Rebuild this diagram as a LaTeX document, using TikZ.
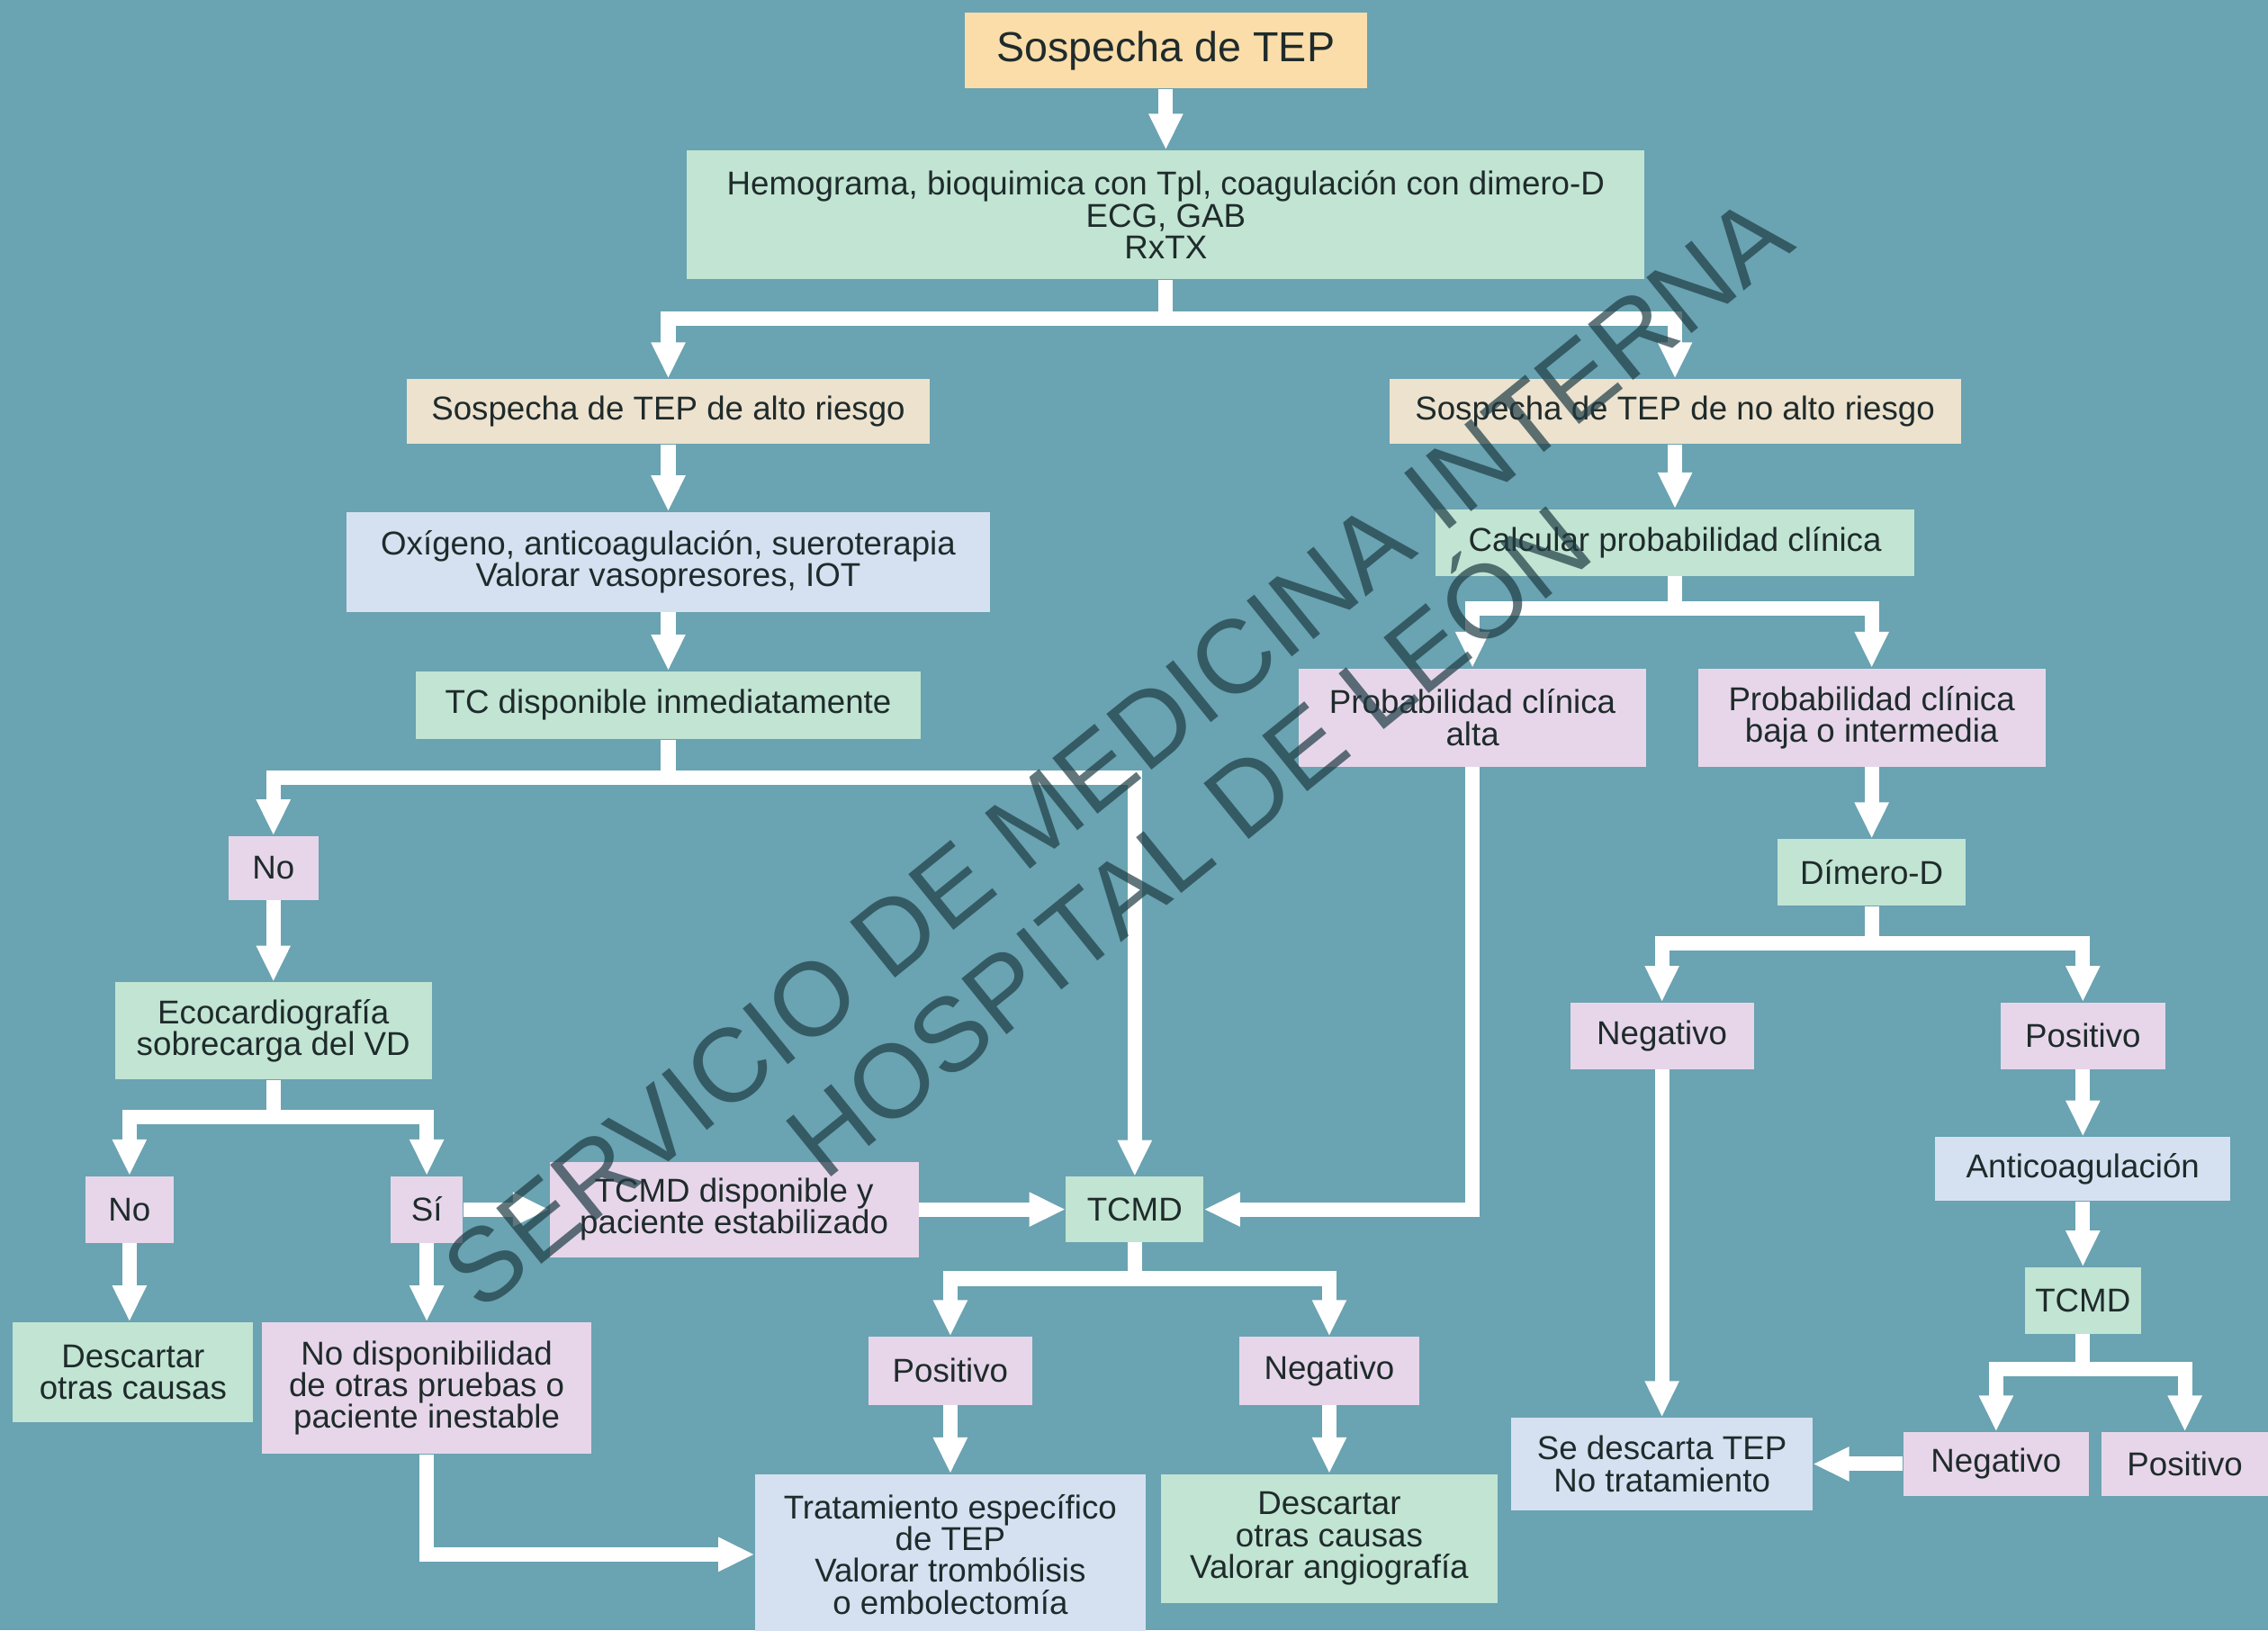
\documentclass[tikz,border=0pt]{standalone}
\usepackage{fontspec}
\setmainfont{Liberation Sans}
\usepackage{tikz}
\usetikzlibrary{arrows.meta,calc}

\definecolor{fondo}{HTML}{6AA3B1}
\definecolor{melocoton}{HTML}{FADDA9}
\definecolor{beige}{HTML}{EDE2CE}
\definecolor{menta}{HTML}{C1E4D3}
\definecolor{celeste}{HTML}{D5E1F1}
\definecolor{rosa}{HTML}{E7D6EA}
\definecolor{tinta}{HTML}{1F2B2B}
\definecolor{marca}{HTML}{1E3C44}

\begin{document}
\begin{tikzpicture}[
  x=0.02cm, y=-0.02cm,
  box/.style={inner sep=0pt, align=center, text=tinta, font=\fontsize{13}{12.5}\selectfont},
  wh/.style 2 args={minimum width=#1*0.02cm, minimum height=#2*0.02cm},
  arr/.style={draw=white, line width=0.2cm, -{Triangle[width=0.44cm,length=0.5cm]}}
]
\fill[fondo] (0,0) rectangle (1568,1127);
\useasboundingbox (0,0) rectangle (1568,1127);

% tronco comun
\node[box, fill=melocoton, wh={278}{52}, font=\fontsize{16.5}{18}\selectfont] (titulo) at (806,35) {Sospecha de TEP};
\node[box, fill=menta, wh={662}{89}] (hemo) at (806,148.5) {Hemograma, bioquimica con Tpl, coagulación con dimero-D\\ECG, GAB\\RxTX};
\node[box, fill=beige, wh={362}{45}] (alto) at (462,284.5) {Sospecha de TEP de alto riesgo};
\node[box, fill=beige, wh={395}{45}] (noalto) at (1158,284.5) {Sospecha de TEP de no alto riesgo};

% rama de alto riesgo
\node[box, fill=celeste, wh={445}{69}] (oxi) at (462,388.5) {Oxígeno, anticoagulación, sueroterapia\\Valorar vasopresores, IOT};
\node[box, fill=menta, wh={349}{47}] (tcinm) at (462,487.5) {TC disponible inmediatamente};
\node[box, fill=rosa, wh={62}{44}] (no1) at (189,600) {No};
\node[box, fill=menta, wh={219}{67}] (eco) at (189,712.5) {Ecocardiografía\\sobrecarga del VD};
\node[box, fill=rosa, wh={61}{46}] (no2) at (89.5,836) {No};
\node[box, fill=rosa, wh={50}{46}] (si) at (295,836) {Sí};
\node[box, fill=rosa, wh={255}{66}] (tcmddisp) at (507.5,836) {TCMD disponible y\\paciente estabilizado};
\node[box, fill=menta, wh={95}{45}] (tcmd) at (784.5,836) {TCMD};
\node[box, fill=menta, wh={166}{69}] (descotras) at (92,948.5) {Descartar\\otras causas};
\node[box, fill=rosa, wh={228}{91}] (nodisp) at (295,959.5) {No disponibilidad\\de otras pruebas o\\paciente inestable};
\node[box, fill=rosa, wh={113}{47}] (pos1) at (657,947.5) {Positivo};
\node[box, fill=rosa, wh={125}{47}] (neg1) at (919,947.5) {Negativo};
\node[box, fill=celeste, wh={270}{111}] (trat) at (657,1074.5) {Tratamiento específico\\de TEP\\Valorar trombólisis\\o embolectomía};
\node[box, fill=menta, wh={233}{89}] (descang) at (919,1063.5) {Descartar\\otras causas\\Valorar angiografía};

% rama de no alto riesgo
\node[box, fill=menta, wh={331}{46}] (calc) at (1158,375) {Calcular probabilidad clínica};
\node[box, fill=rosa, wh={240}{68}] (palta) at (1018,496) {Probabilidad clínica\\alta};
\node[box, fill=rosa, wh={240}{68}] (pbaja) at (1294,496) {Probabilidad clínica\\baja o intermedia};
\node[box, fill=menta, wh={130}{46}] (dimero) at (1294,603) {Dímero-D};
\node[box, fill=rosa, wh={127}{46}] (dneg) at (1149,716) {Negativo};
\node[box, fill=rosa, wh={114}{46}] (dpos) at (1440,716) {Positivo};
\node[box, fill=celeste, wh={204}{44}] (anticoag) at (1440,808) {Anticoagulación};
\node[box, fill=menta, wh={80}{46}] (tcmd2) at (1440,899) {TCMD};
\node[box, fill=celeste, wh={208}{64}] (descarta) at (1149,1012) {Se descarta TEP\\No tratamiento};
\node[box, fill=rosa, wh={128}{44}] (tneg) at (1380,1012) {Negativo};
\node[box, fill=rosa, wh={115}{44}] (tpos) at (1510.5,1012) {Positivo};

% flechas
\draw[arr] (titulo.south) -- (hemo.north);
\draw[arr] (hemo.south) -- ++(0,27) -| (alto.north);
\draw[arr] (hemo.south) -- ++(0,27) -| (noalto.north);
\draw[arr] (alto.south) -- (oxi.north);
\draw[arr] (oxi.south) -- (tcinm.north);
\draw[arr] (tcinm.south) -- ++(0,26) -| (no1.north);
\draw[arr] (tcinm.south) -- ++(0,26) -| (tcmd.north);
\draw[arr] (no1.south) -- (eco.north);
\draw[arr] (eco.south) -- ++(0,26) -| (no2.north);
\draw[arr] (eco.south) -- ++(0,26) -| (si.north);
\draw[arr] (no2.south) -- (no2.south |- descotras.north);
\draw[arr] (si.south) -- (nodisp.north);
\draw[arr] (si.east) -- (tcmddisp.west);
\draw[arr] (tcmddisp.east) -- (tcmd.west);
\draw[arr] (nodisp.south) |- (trat.west);
\draw[arr] (tcmd.south) -- ++(0,25) -| (pos1.north);
\draw[arr] (tcmd.south) -- ++(0,25) -| (neg1.north);
\draw[arr] (pos1.south) -- (trat.north);
\draw[arr] (neg1.south) -- (descang.north);
\draw[arr] (noalto.south) -- (calc.north);
\draw[arr] (calc.south) -- ++(0,22) -| (palta.north);
\draw[arr] (calc.south) -- ++(0,22) -| (pbaja.north);
\draw[arr] (palta.south) |- (tcmd.east);
\draw[arr] (pbaja.south) -- (dimero.north);
\draw[arr] (dimero.south) -- ++(0,26) -| (dneg.north);
\draw[arr] (dimero.south) -- ++(0,26) -| (dpos.north);
\draw[arr] (dneg.south) -- (descarta.north);
\draw[arr] (dpos.south) -- (anticoag.north);
\draw[arr] (anticoag.south) -- (tcmd2.north);
\draw[arr] (tcmd2.south) -- ++(0,24) -| (tneg.north);
\draw[arr] (tcmd2.south) -- ++(0,24) -| (tpos.north);
\draw[arr] (tneg.west) -- (descarta.east);

% marca de agua
\node[rotate=39, align=center, text=marca, text opacity=0.7, font=\fontsize{41}{45}\selectfont] (sello) at (797,551)
  {SERVICIO DE MEDICINA INTERNA\\HOSPITAL DE LEÓN};
\end{tikzpicture}
\end{document}
